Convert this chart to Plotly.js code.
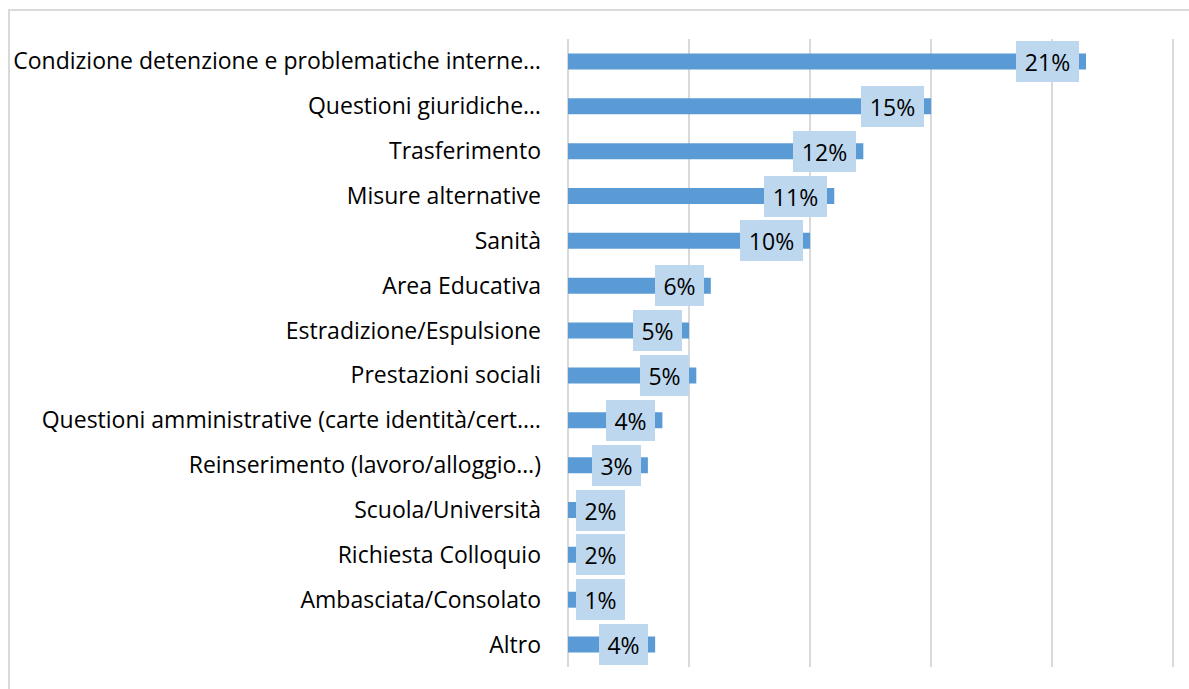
<!DOCTYPE html>
<html>
<head>
<meta charset="utf-8">
<script src="https://cdn.plot.ly/plotly-3.0.1.min.js"></script>
<style>
  html, body { margin: 0; padding: 0; background: #fff; }
  #wrap { position: relative; width: 1189px; height: 689px; overflow: hidden; }
  #frame { position: absolute; left: 8px; top: 9px; width: 1400px; height: 900px;
           border-left: 2px solid #D9D9D9; border-top: 2px solid #D9D9D9; pointer-events: none; }
  #chart { position: absolute; left: 0; top: 0; width: 1189px; height: 689px; }
</style>
</head>
<body>
<div id="wrap">
  <div id="chart"></div>
  <div id="frame"></div>
</div>
<script>
const categories = [
  "Condizione detenzione e problematiche interne…",
  "Questioni giuridiche…",
  "Trasferimento",
  "Misure alternative",
  "Sanità",
  "Area Educativa",
  "Estradizione/Espulsione",
  "Prestazioni sociali",
  "Questioni amministrative (carte identità/cert.…",
  "Reinserimento (lavoro/alloggio…)",
  "Scuola/Università",
  "Richiesta Colloquio",
  "Ambasciata/Consolato",
  "Altro"
];
const values = [21.4, 15.0, 12.2, 11.0, 10.0, 5.9, 5.0, 5.3, 3.9, 3.3, 2.0, 1.8, 1.2, 3.6];
const valueLabels = ["21%", "15%", "12%", "11%", "10%", "6%", "5%", "5%", "4%", "3%", "2%", "2%", "1%", "4%"];

const xMax = 25;
const xPad = 0.2;
const plotLeft = 568, plotTop = 39, plotBottom = 667;
const W = 1189, H = 689;
const pxPerUnit = (1173 - plotLeft) / xMax;
const plotRight = 1173 + xPad * pxPerUnit;
const FONT = '"Open Sans", sans-serif';

const annotations = values.map((v, i) => {
  const lbl = valueLabels[i];
  const bw = lbl.length >= 3 ? 63 : 49;
  const rightPx = v * pxPerUnit - 7;
  const clamp = rightPx - bw < 8;
  return {
    x: clamp ? 0 : v,
    y: categories[i],
    xref: 'x', yref: 'y',
    text: lbl,
    showarrow: false,
    xanchor: clamp ? 'left' : 'right',
    yanchor: 'middle',
    xshift: clamp ? 8 : -7,
    width: bw, height: 41,
    bgcolor: '#BDD7EE',
    borderpad: 0,
    borderwidth: 0,
    font: { family: FONT, size: 23, color: '#000' }
  };
});

const trace = {
  type: 'bar',
  orientation: 'h',
  y: categories,
  x: values,
  marker: { color: '#5B9BD5' },
  hoverinfo: 'skip'
};

const layout = {
  width: W, height: H,
  margin: { l: plotLeft, r: W - plotRight, t: plotTop, b: H - plotBottom, pad: 0 },
  paper_bgcolor: '#fff',
  plot_bgcolor: '#fff',
  showlegend: false,
  bargap: 0.644,
  xaxis: {
    range: [0, xMax + xPad],
    tick0: 0,
    dtick: 5,
    showticklabels: false,
    showgrid: true,
    gridcolor: '#D9D9D9',
    gridwidth: 2,
    zeroline: true,
    zerolinecolor: '#D9D9D9',
    zerolinewidth: 2,
    showline: false,
    fixedrange: true
  },
  yaxis: {
    type: 'category',
    autorange: 'reversed',
    showgrid: false,
    showline: false,
    zeroline: false,
    ticks: '',
    ticklabelstandoff: 26,
    tickfont: { family: FONT, size: 23, color: '#000' },
    fixedrange: true
  },
  annotations: annotations
};

Plotly.newPlot('chart', [trace], layout, { displayModeBar: false, staticPlot: true });
</script>
</body>
</html>
